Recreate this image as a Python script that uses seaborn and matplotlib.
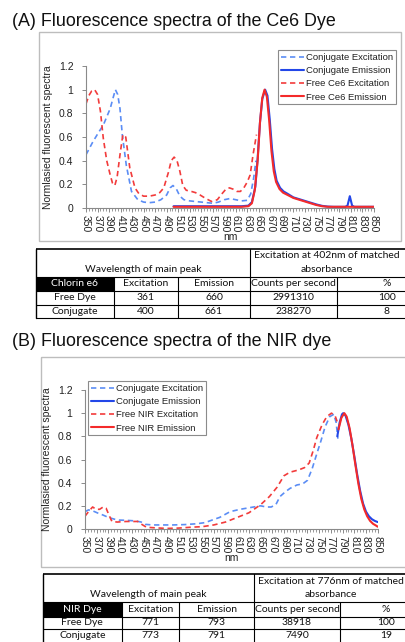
import seaborn as sns
import matplotlib.pyplot as plt
from matplotlib.patches import Rectangle
from matplotlib.ticker import MultipleLocator

# ---- (A) Ce6 dye spectra ----
a_conj_ex_nm = [350, 362, 372, 380, 392, 397, 401, 405, 409, 413, 420, 429, 440, 450, 460, 470, 480, 490,
                496, 501, 507, 513, 520, 530, 540, 550, 560, 570, 580, 590, 600, 610, 620, 630, 636, 641, 645]
a_conj_ex = [0.45, 0.56, 0.64, 0.70, 0.84, 0.93, 1.0, 0.96, 0.84, 0.62, 0.36, 0.14, 0.07, 0.05, 0.045, 0.05,
             0.07, 0.11, 0.17, 0.19, 0.16, 0.10, 0.07, 0.06, 0.055, 0.05, 0.045, 0.04, 0.05, 0.07, 0.08, 0.07,
             0.06, 0.065, 0.12, 0.25, 0.40]

a_free_ex_nm = [350, 355, 360, 365, 370, 375, 380, 386, 392, 396, 400, 404, 409, 414, 419, 426, 435, 442, 450,
                460, 470, 478, 485, 493, 498, 503, 508, 513, 518, 524, 533, 540, 548, 558, 568, 578, 586, 593,
                599, 605, 612, 618, 624, 630, 635, 640, 646]
a_free_ex = [0.88, 0.95, 0.99, 1.0, 0.96, 0.82, 0.59, 0.40, 0.28, 0.21, 0.19, 0.26, 0.45, 0.62, 0.60, 0.34,
             0.17, 0.12, 0.10, 0.10, 0.11, 0.13, 0.17, 0.30, 0.40, 0.43, 0.40, 0.31, 0.19, 0.15, 0.14, 0.13,
             0.11, 0.08, 0.055, 0.07, 0.12, 0.16, 0.17, 0.16, 0.14, 0.14, 0.17, 0.22, 0.28, 0.45, 0.62]

a_conj_em_nm = [502, 530, 560, 590, 620, 632, 638, 644, 648, 652, 656, 661, 665, 669, 673, 677, 681, 687,
                693, 700, 710, 720, 730, 740, 750, 760, 770, 780, 790, 800, 804, 808, 812, 816, 830, 850]
a_conj_em = [0.015, 0.015, 0.015, 0.015, 0.015, 0.02, 0.05, 0.18, 0.42, 0.72, 0.92, 1.0, 0.95, 0.75, 0.50,
             0.33, 0.23, 0.17, 0.14, 0.12, 0.09, 0.075, 0.06, 0.045, 0.03, 0.018, 0.012, 0.01, 0.01, 0.01,
             0.02, 0.10, 0.02, 0.01, 0.01, 0.01]

a_free_em_nm = [502, 530, 560, 590, 620, 632, 638, 643, 648, 652, 656, 660, 664, 668, 672, 676, 680, 686,
                692, 700, 710, 720, 730, 740, 750, 760, 770, 790, 820, 850]
a_free_em = [0.01, 0.01, 0.01, 0.01, 0.01, 0.015, 0.04, 0.15, 0.40, 0.72, 0.93, 1.0, 0.94, 0.74, 0.48, 0.31,
             0.22, 0.16, 0.13, 0.11, 0.085, 0.07, 0.055, 0.04, 0.025, 0.015, 0.01, 0.01, 0.01, 0.01]

# ---- (B) NIR dye spectra ----
b_conj_ex_nm = [350, 356, 364, 373, 381, 390, 400, 408, 420, 436, 446, 453, 465, 480, 500, 520, 540, 555,
                567, 580, 598, 615, 638, 650, 660, 668, 676, 683, 692, 700, 712, 722, 730, 738, 746, 753, 760,
                768, 775, 779, 782]
b_conj_ex = [0.15, 0.165, 0.155, 0.135, 0.12, 0.10, 0.085, 0.077, 0.075, 0.07, 0.06, 0.04, 0.035, 0.035,
             0.035, 0.038, 0.045, 0.055, 0.077, 0.10, 0.15, 0.17, 0.19, 0.20, 0.19, 0.19, 0.21, 0.28, 0.32,
             0.35, 0.38, 0.39, 0.42, 0.52, 0.65, 0.76, 0.88, 0.97, 0.99, 0.92, 0.78]

b_free_ex_nm = [350, 356, 363, 369, 375, 381, 386, 391, 396, 405, 420, 440, 447, 455, 470, 490, 510, 530,
                550, 570, 590, 610, 630, 650, 665, 678, 690, 700, 715, 725, 733, 740, 746, 755, 763, 771,
                777, 782]
b_free_ex = [0.11, 0.15, 0.19, 0.17, 0.17, 0.19, 0.18, 0.12, 0.065, 0.06, 0.065, 0.065, 0.04, 0.015, 0.01,
             0.005, 0.008, 0.015, 0.02, 0.035, 0.06, 0.10, 0.14, 0.21, 0.28, 0.36, 0.46, 0.49, 0.51, 0.53,
             0.57, 0.68, 0.79, 0.90, 0.97, 1.0, 0.98, 0.91]

b_conj_em_nm = [781, 785, 789, 791, 795, 800, 805, 810, 815, 820, 825, 830, 835, 840, 845, 850]
b_conj_em = [0.80, 0.92, 0.99, 1.0, 0.98, 0.90, 0.78, 0.63, 0.47, 0.33, 0.22, 0.15, 0.11, 0.085, 0.07, 0.06]

b_free_em_nm = [783, 788, 793, 797, 802, 807, 812, 817, 822, 827, 832, 837, 842, 847, 850]
b_free_em = [0.86, 0.96, 1.0, 0.97, 0.87, 0.72, 0.55, 0.39, 0.26, 0.17, 0.11, 0.07, 0.045, 0.03, 0.02]

# ---- tables ----
a_head_left = "Wavelength of main peak"
a_head_right = ["Excitation at 402nm of matched", "absorbance"]
a_col_names = ["Chlorin e6", "Excitation", "Emission", "Counts per second", "%"]
a_rows = [["Free Dye", "361", "660", "2991310", "100"],
          ["Conjugate", "400", "661", "238270", "8"]]

b_head_left = "Wavelength of main peak"
b_head_right = ["Excitation at 776nm of matched", "absorbance"]
b_col_names = ["NIR Dye", "Excitation", "Emission", "Counts per second", "%"]
b_rows = [["Free Dye", "771", "793", "38918", "100"],
          ["Conjugate", "773", "791", "7490", "19"]]

W, H = 406, 642
sns.set_style("white")
plt.rcParams['font.family'] = ['Liberation Sans', 'DejaVu Sans']

fig = plt.figure(figsize=(W / 100, H / 100), dpi=100)

# overlay in pixel coordinates for frames and tables
ov = fig.add_axes([0, 0, 1, 1], zorder=0)
ov.set_xlim(0, W)
ov.set_ylim(H, 0)
ov.axis('off')

C_CONJ_EX = '#5B8DF5'
C_CONJ_EM = '#2347E8'
C_FREE_EX = '#F23B3B'
C_FREE_EM = '#F42A2A'


def px_axes(left, top, right, bottom):
    return fig.add_axes([left / W, 1 - bottom / H, (right - left) / W, (bottom - top) / H], zorder=2)


def spectra(ax, curves, leg_names, leg_anchor):
    dash = (0, (3.2, 2.2))
    styles = [(C_CONJ_EX, dash, 1.2), (C_CONJ_EM, '-', 1.5), (C_FREE_EX, dash, 1.2), (C_FREE_EM, '-', 1.5)]
    for (nm, val), name, (c, ls, lw) in zip(curves, leg_names, styles):
        sns.lineplot(x=nm, y=val, ax=ax, color=c, linestyle=ls, linewidth=lw, sort=False,
                     estimator=None, errorbar=None, label=name)
    ax.set_facecolor('none')
    ax.set_xlim(350, 850)
    ax.set_ylim(0, 1.2)
    ax.xaxis.set_minor_locator(MultipleLocator(5))
    ax.set_yticks([0, 0.2, 0.4, 0.6, 0.8, 1.0, 1.2])
    ax.set_yticklabels(["0", "0.2", "0.4", "0.6", "0.8", "1", "1.2"])
    ax.set_xticks(list(range(350, 851, 20)))
    ax.set_xticklabels([str(v) for v in range(350, 851, 20)], rotation=270, va='top')
    for s in ['top', 'right']:
        ax.spines[s].set_visible(False)
    for s in ['left', 'bottom']:
        ax.spines[s].set_color('#8A8A8A')
        ax.spines[s].set_linewidth(0.8)
    ax.tick_params(axis='both', which='major', labelsize=7.5, colors='#8A8A8A', labelcolor='#222222',
                   length=3, width=0.7, pad=2, direction='out', bottom=True, left=True)
    ax.tick_params(axis='x', which='minor', length=2, width=0.6, colors='#8A8A8A', bottom=True)
    ax.tick_params(axis='y', pad=6)
    ax.set_xlabel("nm", fontsize=7.5, labelpad=0, color='#222222')
    ax.set_ylabel("Normlasied fluorescent spectra", fontsize=7.5, labelpad=4, color='#222222')
    leg = ax.legend(loc='upper left', bbox_to_anchor=(leg_anchor[0] / W, 1 - leg_anchor[1] / H),
                    bbox_transform=fig.transFigure, fontsize=6.8, frameon=True, fancybox=False,
                    handlelength=2.5, handletextpad=0.15, labelspacing=0.45, borderpad=0.3,
                    borderaxespad=0)
    leg.get_frame().set_edgecolor('#6E6E6E')
    leg.get_frame().set_linewidth(0.8)
    for t in leg.get_texts():
        t.set_color('#222222')


def draw_table(cols, rys, head_left, head_right, names, body):
    x0, x5 = cols[0], cols[-1]
    ov.add_patch(Rectangle((cols[0], rys[1]), cols[1] - cols[0], rys[2] - rys[1], color='black', lw=0))
    for i, y in enumerate(rys):
        ov.plot([x0, x5], [y, y], color='black', lw=1.2 if i == 0 else 0.8, solid_capstyle='butt')
    ov.plot([x0, x0], [rys[0], rys[-1]], color='black', lw=1.0)
    ov.plot([cols[3], cols[3]], [rys[0], rys[-1]], color='black', lw=0.8)
    for c in (cols[1], cols[2], cols[4]):
        ov.plot([c, c], [rys[1], rys[-1]], color='black', lw=0.8)
    tk = dict(fontsize=7.5, family=['Lato', 'DejaVu Sans'], ha='center', va='center', color='#111111')
    ov.text((cols[0] + cols[3]) / 2, rys[1] - 7.5, head_left, **tk)
    hx = cols[3] + 77
    ov.text(hx, rys[1] - 21, head_right[0], **tk)
    ov.text(hx, rys[1] - 7.5, head_right[1], **tk)
    for j, name in enumerate(names):
        kw = dict(tk)
        if j == 0:
            kw['color'] = 'white'
        ov.text((cols[j] + cols[j + 1]) / 2, (rys[1] + rys[2]) / 2, name, **kw)
    for i, row in enumerate(body):
        for j, val in enumerate(row):
            ov.text((cols[j] + cols[j + 1]) / 2, (rys[i + 2] + rys[i + 3]) / 2, val, **tk)


# panel A
fig.text(12 / W, 1 - 21 / H, "(A) Fluorescence spectra of the Ce6 Dye", fontsize=12.9, va='center', color='#111111')
ov.add_patch(Rectangle((39, 32), 362, 209, fill=False, edgecolor='#BDBDBD', lw=1.0))
ax_a = px_axes(86, 66, 374, 208)
spectra(ax_a,
        [(a_conj_ex_nm, a_conj_ex), (a_conj_em_nm, a_conj_em), (a_free_ex_nm, a_free_ex), (a_free_em_nm, a_free_em)],
        ["Conjugate Excitation", "Conjugate Emission", "Free Ce6 Excitation", "Free Ce6 Emission"],
        (278, 50))
draw_table([36, 114, 178, 250, 337, 437], [248.5, 277, 291, 304.5, 318], a_head_left, a_head_right, a_col_names, a_rows)

# panel B
fig.text(12 / W, 1 - 341 / H, "(B) Fluorescence spectra of the NIR dye", fontsize=12.9, va='center', color='#111111')
ov.add_patch(Rectangle((41, 357), 420, 210, fill=False, edgecolor='#BDBDBD', lw=1.0))
ax_b = px_axes(85, 390, 377.7, 529)
spectra(ax_b,
        [(b_conj_ex_nm, b_conj_ex), (b_conj_em_nm, b_conj_em), (b_free_ex_nm, b_free_ex), (b_free_em_nm, b_free_em)],
        ["Conjugate Excitation", "Conjugate Emission", "Free NIR Excitation", "Free NIR Emission"],
        (88, 381))
draw_table([43, 121.7, 179.3, 254, 340, 432], [573.5, 602, 616.5, 629, 643], b_head_left, b_head_right, b_col_names, b_rows)

fig.savefig("out.png", dpi=100)
